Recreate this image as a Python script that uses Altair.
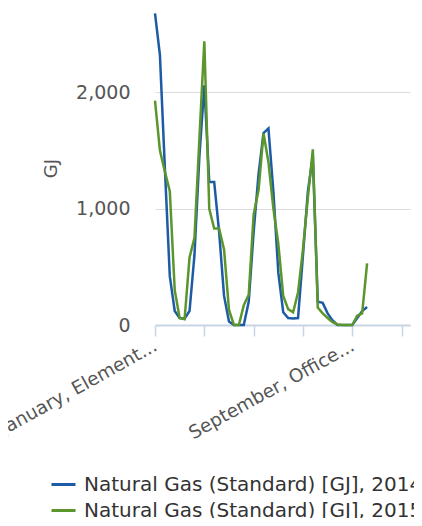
import altair as alt
import pandas as pd

# ---- data ----
series_names = ["Natural Gas (Standard) [GJ], 2014", "Natural Gas (Standard) [GJ], 2015"]
series_colors = ["#1d5ba6", "#5b962c"]

gas_2014 = [2680, 2320, 1350, 420, 120, 60, 55, 120, 600, 1450,
            2060, 1230, 1230, 800, 250, 30, 0, 0, 0, 200,
            800, 1300, 1650, 1690, 1150, 450, 110, 60, 55, 60,
            600, 1150, 1450, 200, 190, 100, 40, 0, 0, 0,
            0, 60, 120, 155]
gas_2015 = [1930, 1500, 1320, 1150, 300, 60, 50, 580, 750, 1600,
            2440, 1000, 830, 830, 650, 130, 0, 0, 170, 260,
            950, 1160, 1650, 1400, 1000, 700, 250, 137, 110, 280,
            650, 1100, 1510, 150, 100, 60, 25, 5, 0, 0,
            0, 80, 100, 530]

x_tick_values = [0, 10, 20, 30, 40, 50]
x_tick_labels = ["January, Element...", "", "", "", "September, Office...", ""]
y_tick_values = [0, 1000, 2000]

rows = []
for name, vals in zip(series_names, [gas_2014, gas_2015]):
    for i, v in enumerate(vals):
        rows.append({"idx": i, "value": v, "series": name})
df = pd.DataFrame(rows)

label_expr = "''"
for v, lab in zip(reversed(x_tick_values), reversed(x_tick_labels)):
    label_expr = f"datum.value == {v} ? '{lab}' : ({label_expr})"

FONT = "DejaVu Sans"

chart = alt.Chart(df).mark_line(strokeWidth=2.5).encode(
    x=alt.X(
        "idx:Q",
        scale=alt.Scale(domain=[0, 51.7], nice=False, zero=False),
        axis=alt.Axis(
            values=x_tick_values, labelExpr=label_expr, title=None, grid=False,
            domainColor="#c9d5e3", domainWidth=2, tickColor="#c9d5e3", tickWidth=1.5,
            tickSize=11, labelAngle=-29, labelAlign="right", labelBaseline="middle",
            labelPadding=8, labelFontSize=18.5, labelColor="#555555", labelFont=FONT,
            labelOverlap=False, labelFlush=False, labelLimit=1000,
        ),
    ),
    y=alt.Y(
        "value:Q",
        scale=alt.Scale(domain=[0, 2700], nice=False),
        axis=alt.Axis(
            values=y_tick_values, format=",.0f", title="GJ", domain=False, ticks=False,
            gridColor="#dcdcdc", gridWidth=1, labelPadding=25, labelFontSize=19,
            labelColor="#555555", labelFont=FONT, titleFont=FONT, titleFontSize=18,
            titleFontWeight="normal", titleColor="#555555", titlePadding=15,
        ),
    ),
    color=alt.Color(
        "series:N",
        scale=alt.Scale(domain=series_names, range=series_colors),
        legend=alt.Legend(
            title=None, orient="none", legendX=-105, legendY=460, direction="vertical",
            symbolType="stroke", symbolSize=576, symbolStrokeWidth=3,
            labelFontSize=20, labelFont=FONT, labelColor="#333333", labelOffset=7,
            labelLimit=1000, rowPadding=2,
        ),
    ),
).properties(
    width=255, height=314,
    autosize=alt.AutoSizeParams(type="none"),
    padding={"left": 147, "top": 3, "right": 4, "bottom": 193},
).configure_view(stroke=None)

chart.save("out.html", embed_options={"renderer": "svg", "actions": False})
